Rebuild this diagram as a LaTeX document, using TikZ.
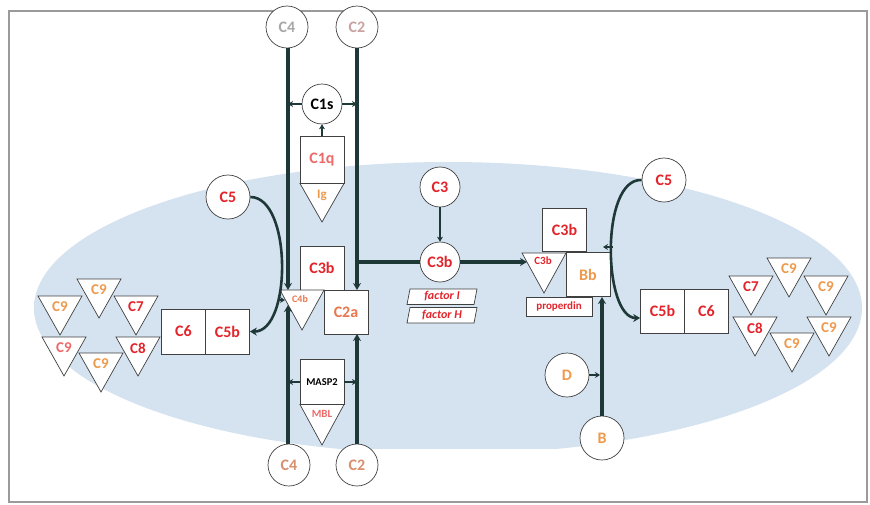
\documentclass[tikz,border=0pt]{standalone}
\usepackage{fontspec}
\setmainfont{Carlito}
\usetikzlibrary{arrows.meta,calc}

\definecolor{lnc}{HTML}{1E3838}
\definecolor{redt}{HTML}{E3242B}
\definecolor{pinkt}{HTML}{EE6A6A}
\definecolor{orgt}{HTML}{EE9A4D}
\definecolor{c2at}{HTML}{E8784E}
\definecolor{grayt}{HTML}{A8A8A8}
\definecolor{c2top}{HTML}{C9A3A3}
\definecolor{brnt}{HTML}{D8906E}
\definecolor{cell}{HTML}{D5E3F0}
\definecolor{cellrim}{HTML}{E3ECF5}
\definecolor{frame}{HTML}{9A9A9A}

% soft-edged membrane fill
\pgfdeclareradialshading{cellshade}{\pgfpoint{0bp}{0bp}}{%
  color(0bp)=(cell); color(38bp)=(cell); color(47bp)=(cellrim); color(50bp)=(white)}

\tikzset{
  mol/.style={circle,draw=black!75,line width=0.7pt,fill=white,minimum size=42pt,inner sep=0pt,font=\bfseries\fontsize{16}{16}\selectfont},
  box/.style={rectangle,draw=black!75,line width=0.7pt,fill=white,minimum width=44pt,minimum height=44pt,inner sep=0pt,font=\bfseries\fontsize{16}{16}\selectfont},
  lbl/.style={inner sep=0pt,font=\bfseries\fontsize{15}{15}\selectfont},
  small/.style={inner sep=0pt,font=\bfseries\fontsize{10}{10}\selectfont},
  tri/.style={draw=black!75,line width=0.7pt,fill=white,line join=miter},
  path/.style={draw=lnc,line width=3.6pt},
  flow/.style={draw=lnc,line width=3.6pt,-{Stealth[length=7pt,width=8pt]}},
  curv/.style={draw=lnc,line width=2.6pt,-{Stealth[length=7pt,width=8pt]}},
  tick/.style={draw=lnc,line width=1.8pt,-{Stealth[length=5pt,width=6pt]}},
}

% inverted triangle: name, centre x, top y, label, colour, font style
\newcommand\invtri[6]{%
  \draw[tri] ({#2-22},#3) -- ({#2+22},#3) -- (#2,{#3+39}) -- cycle;
  \node[#6,text=#5] (#1) at (#2,{#3+11}) {#4};}

\begin{document}
\begin{tikzpicture}[x=1pt,y=-1pt]
\useasboundingbox (0,0) rectangle (870,504);
\fill[white] (0,0) rectangle (870,504);

% cell surface
\begin{scope}
  \clip (0,0) rectangle (870,448);
  \shade[shading=cellshade] (448,308) ellipse [x radius=414,y radius=146];
\end{scope}

\draw[frame,line width=2.6pt] (9,11) rectangle (867,502);

% ---------------- classical / lectin pathways ----------------
\node[mol,text=grayt] (c4t) at (287,27) {C4};
\node[mol,text=c2top] (c2t) at (357,27) {C2};
\node[mol,text=black,minimum size=40pt] (c1s) at (322,104) {C1s};

\node[box,text=pinkt,minimum height=47pt] (c1q) at (322,160) {C1q};
\draw[tri] (300,183.5) -- (344,183.5) -- (322,222) -- cycle;
\node[lbl,text=orgt,font=\bfseries\fontsize{13}{13}\selectfont] (ig) at (322,195) {Ig};

\node[box,text=redt] (c3bcl) at (322,268) {C3b};
\draw[tri] (280,290) -- (324,290) -- (302,330) -- cycle;
\node[small,text=c2at] (c4b) at (300,299) {C4b};
\node[box,text=c2at] (c2a) at (346,312) {C2a};

\node[box,text=black,font=\bfseries\fontsize{10.5}{10.5}\selectfont,minimum height=45pt] (masp) at (322,382) {MASP2};
\draw[tri] (300,404.5) -- (344,404.5) -- (322,445) -- cycle;
\node[small,text=pinkt,font=\bfseries\fontsize{11}{11}\selectfont] (mbl) at (322,414) {MBL};

\node[mol,text=brnt] (c4d) at (289,465) {C4};
\node[mol,text=brnt] (c2d) at (357,465) {C2};

\coordinate (c4in) at (288,290);
\coordinate (c4up) at (288,305);
\coordinate (c2in) at (357,290);
\coordinate (c2up) at (357,334);
\coordinate (c2j) at (357,262);

\draw[flow] (c4t.south -| c4in) -- (c4in);
\draw[flow] (c2t.south -| c2in) -- (c2in);
\draw[flow] (c4d.north -| c4up) -- (c4up);
\draw[flow] (c2d.north -| c2up) -- (c2up);

\draw[tick] (c1s.west) -- (c1s.west -| c4in);
\draw[tick] (c1s.east) -- (c1s.east -| c2in);
\draw[tick] (c1q.north) -- (c1s.south);
\draw[tick] (masp.west) -- (masp.west -| c4in);
\draw[tick] (masp.east) -- (masp.east -| c2in);

% ---------------- alternative pathway ----------------
\node[mol,text=redt,minimum size=40pt] (c3) at (440,187) {C3};
\node[mol,text=redt,minimum size=40pt] (c3bf) at (440,262) {C3b};
\draw[path] (c2j) -- (c3bf.west);
\draw[tick,line width=2.4pt] (c3.south) -- (c3bf.north);

\draw[draw=black!75,line width=0.7pt,fill=white] (410,289) -- (477,289) -- (474,304.5) -- (407,304.5) -- cycle;
\node[inner sep=0pt,text=redt,font=\bfseries\itshape\fontsize{12}{12}\selectfont] (fi) at (442,296.5) {factor I};
\draw[draw=black!75,line width=0.7pt,fill=white] (410,307.5) -- (477,307.5) -- (474,323) -- (407,323) -- cycle;
\node[inner sep=0pt,text=redt,font=\bfseries\itshape\fontsize{12}{12}\selectfont] (fh) at (442,315) {factor H};

\node[box,text=redt,minimum height=43pt] (c3bbox) at (564.5,229.5) {C3b};
\draw[tri] (522,253) -- (566,253) -- (544,293) -- cycle;
\node[small,text=redt,font=\bfseries\fontsize{11}{11}\selectfont] (c3btri) at (543,261) {C3b};
\node[box,text=orgt] (bb) at (588,274.5) {Bb};
\node[rectangle,draw=black!75,line width=0.7pt,fill=white,minimum width=66pt,minimum height=19pt,inner sep=0pt,text=redt,font=\bfseries\fontsize{11}{11}\selectfont] (prop) at (559,306.5) {properdin};

\coordinate (c3bin) at (527,262);
\draw[flow] (c3bf.east) -- (c3bin);

\node[mol,text=orgt,minimum size=44pt] (d) at (567,375) {D};
\node[mol,text=orgt,minimum size=44pt] (b) at (602,438) {B};
\coordinate (bbin) at (602,297);
\draw[flow] (b.north) -- (bbin);
\coordinate (dj) at (600,375);
\draw[tick] (d.east) -- (dj);

% ---------------- terminal pathway, left ----------------
\node[mol,text=redt,minimum size=44pt] (c5l) at (228,197) {C5};
\node[box,text=redt,minimum height=45pt] (c5bl) at (227.5,331.5) {C5b};
\node[box,text=redt,minimum height=45pt] (c6l) at (183.5,331.5) {C6};
\draw[curv] (c5l.east) .. controls (292,197) and (292,332) .. (c5bl.east);
\coordinate (cl) at (278,300);
\coordinate (c4bleft) at (285,300);
\draw[tick,line width=1.4pt] (cl) -- (c4bleft);

\invtri{l9a}{60}{296}{C9}{orgt}{lbl}
\invtri{l9b}{99}{279}{C9}{orgt}{lbl}
\invtri{l7}{136}{296}{C7}{redt}{lbl}
\invtri{l9c}{64}{337}{C9}{pinkt}{lbl}
\invtri{l9d}{101}{353}{C9}{orgt}{lbl}
\invtri{l8}{138}{337}{C8}{redt}{lbl}

% ---------------- terminal pathway, right ----------------
\node[mol,text=redt,minimum size=44pt] (c5r) at (664,180) {C5};
\node[box,text=redt] (c5br) at (662.5,311) {C5b};
\node[box,text=redt] (c6r) at (706.5,311) {C6};
\draw[curv] (c5r.west) .. controls (600,178) and (603,318) .. ($(c5br.west)+(0,7)$);
\coordinate (cr) at (613,247);
\coordinate (bbtop) at (603,247);
\draw[tick,line width=1.4pt] (cr) -- (bbtop);

\invtri{r7}{751}{276}{C7}{redt}{lbl}
\invtri{r9a}{789}{258}{C9}{orgt}{lbl}
\invtri{r9b}{826}{276}{C9}{orgt}{lbl}
\invtri{r8}{755}{317}{C8}{redt}{lbl}
\invtri{r9c}{792}{333}{C9}{orgt}{lbl}
\invtri{r9d}{829}{317}{C9}{orgt}{lbl}

\end{tikzpicture}
\end{document}
